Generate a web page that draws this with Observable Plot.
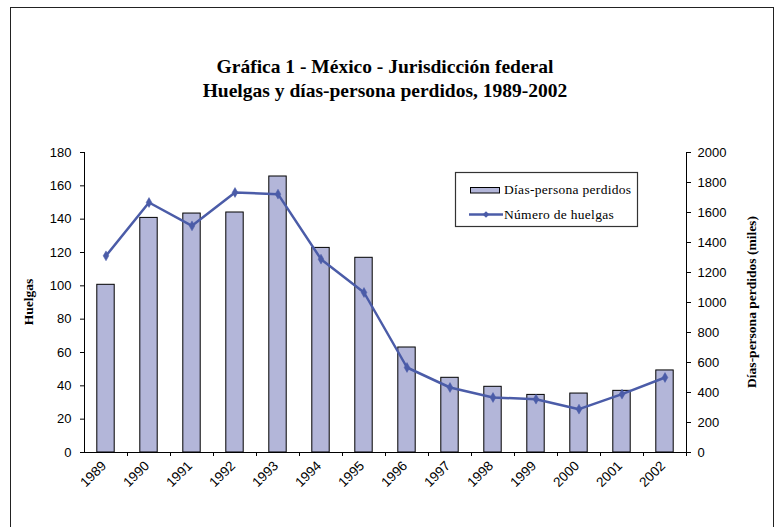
<!DOCTYPE html>
<html><head><meta charset="utf-8">
<script src="https://cdn.jsdelivr.net/npm/d3@7"></script>
<script src="https://cdn.jsdelivr.net/npm/@observablehq/plot@0.6"></script>
<style>
body{margin:0;background:#fff;overflow:hidden;}
#wrap{position:relative;width:780px;height:527px;}
#border{position:absolute;left:10px;top:7px;width:764px;height:580px;border:1px solid #222;box-sizing:border-box;}
#title{position:absolute;left:0;width:770px;top:55px;text-align:center;font:bold 19.5px "Liberation Serif","Times New Roman",serif;line-height:23.5px;color:#000;}
#chart{position:absolute;left:0;top:0;}
</style></head><body>
<div id="wrap">
  <div id="border"></div>
  <div id="chart"></div>
  <div id="title">Gráfica 1 - México - Jurisdicción federal<br>Huelgas y días-persona perdidos, 1989-2002</div>
</div>
<script>
// Data
const years = [1989,1990,1991,1992,1993,1994,1995,1996,1997,1998,1999,2000,2001,2002];
const diasPerdidos = [1118,1564,1593,1600,1840,1364,1298,700,498,438,384,393,411,547]; // miles
const numeroHuelgas = [118,150,136,156,155,116,96,51,39,33,32,26,35,45];
const leftTicks = [0,20,40,60,80,100,120,140,160,180];
const rightTicks = [0,200,400,600,800,1000,1200,1400,1600,1800,2000];
const leftMax = 180, rightMax = 2000;
const ratio = leftMax / rightMax;

const barColor = "#b3b6d9";
const lineColor = "#4b5ca8";

const data = years.map((y, i) => ({year: y, dias: diasPerdidos[i], huelgas: numeroHuelgas[i]}));

const chart = Plot.plot({
  width: 780, height: 527,
  marginLeft: 84, marginRight: 94, marginTop: 152, marginBottom: 75,
  style: {fontFamily: "'Liberation Sans', Arial, sans-serif", fontSize: "13px", color: "#000", background: "transparent", overflow: "visible"},
  x: {type: "band", domain: years, padding: 0, label: null},
  y: {domain: [0, leftMax], label: null},
  marks: [
    Plot.barY(data, {x: "year", y: d => d.dias * ratio, fill: barColor, stroke: "#000", strokeWidth: 1, insetLeft: 12.8, insetRight: 12.8}),
    Plot.line(data, {x: "year", y: "huelgas", stroke: lineColor, strokeWidth: 2.5}),
    Plot.dot(data, {x: "year", y: "huelgas", symbol: "diamond", r: 3, fill: lineColor, stroke: lineColor, strokeWidth: 0.5}),
    Plot.axisY(leftTicks, {anchor: "left", tickSize: 4, tickPadding: 9, label: null, fontSize: 13}),
    Plot.axisY(rightTicks.map(v => v * ratio), {anchor: "right", tickSize: 4, tickPadding: 7, label: null, fontSize: 13, tickFormat: d => String(Math.round(d / ratio))}),
    Plot.axisX(years, {anchor: "bottom", tickSize: 0, tickPadding: 11, tickRotate: -45, dx: -2, label: null, fontSize: 13.5, tickFormat: d => String(d)})
  ]
});
document.getElementById("chart").appendChild(chart);

// Axis lines and category boundary ticks, derived from the Plot scales
const svg = d3.select(chart);
const xs = chart.scale("x"), ys = chart.scale("y");
const [x0, x1] = [xs.range[0], xs.range[1]];
const y0 = ys.apply(0), yTop = ys.apply(leftMax);
const g = svg.append("g").attr("stroke", "#000").attr("stroke-width", 1).attr("shape-rendering", "crispEdges");
g.append("line").attr("x1", x0).attr("x2", x1).attr("y1", y0).attr("y2", y0);
g.append("line").attr("x1", x0).attr("x2", x0).attr("y1", yTop).attr("y2", y0);
g.append("line").attr("x1", x1).attr("x2", x1).attr("y1", yTop).attr("y2", y0);
const bounds = years.slice(1).map(y => xs.apply(y)).concat([x1]);
bounds.forEach(bx => g.append("line").attr("x1", bx).attr("x2", bx).attr("y1", y0).attr("y2", y0 + 4));

// Axis titles
const serif = "'Liberation Serif','Times New Roman',serif";
svg.append("text").text("Huelgas")
  .attr("transform", `translate(33,${(yTop + y0) / 2}) rotate(-90)`)
  .attr("text-anchor", "middle").attr("font-family", serif).attr("font-weight", "bold").attr("font-size", 13.5).attr("fill", "#000");
svg.append("text").text("Días-persona perdidos (miles)")
  .attr("transform", `translate(756,${(yTop + y0) / 2}) rotate(-90)`)
  .attr("text-anchor", "middle").attr("font-family", serif).attr("font-weight", "bold").attr("font-size", 13.5).attr("fill", "#000");

// Legend
const lg = svg.append("g").attr("text-anchor", "start");
lg.append("rect").attr("x", 455.5).attr("y", 172.5).attr("width", 182).attr("height", 54).attr("fill", "#fff").attr("stroke", "#333").attr("stroke-width", 1.2);
lg.append("rect").attr("x", 470.5).attr("y", 187.5).attr("width", 29).attr("height", 5.5).attr("fill", barColor).attr("stroke", "#000").attr("stroke-width", 1);
lg.append("text").text("Días-persona perdidos").attr("x", 504).attr("y", 194).attr("text-anchor", "start").attr("font-family", serif).attr("font-size", 13.5).attr("letter-spacing", "0.3px").attr("fill", "#000");
lg.append("line").attr("x1", 469).attr("x2", 503).attr("y1", 214.5).attr("y2", 214.5).attr("stroke", lineColor).attr("stroke-width", 2.5);
lg.append("path").attr("d", d3.symbol(d3.symbolDiamond2, 28)()).attr("transform", "translate(486,214.5)").attr("fill", lineColor);
lg.append("text").text("Número de huelgas").attr("x", 504).attr("y", 219).attr("text-anchor", "start").attr("font-family", serif).attr("font-size", 13.5).attr("letter-spacing", "0.3px").attr("fill", "#000");
</script>
</body></html>
